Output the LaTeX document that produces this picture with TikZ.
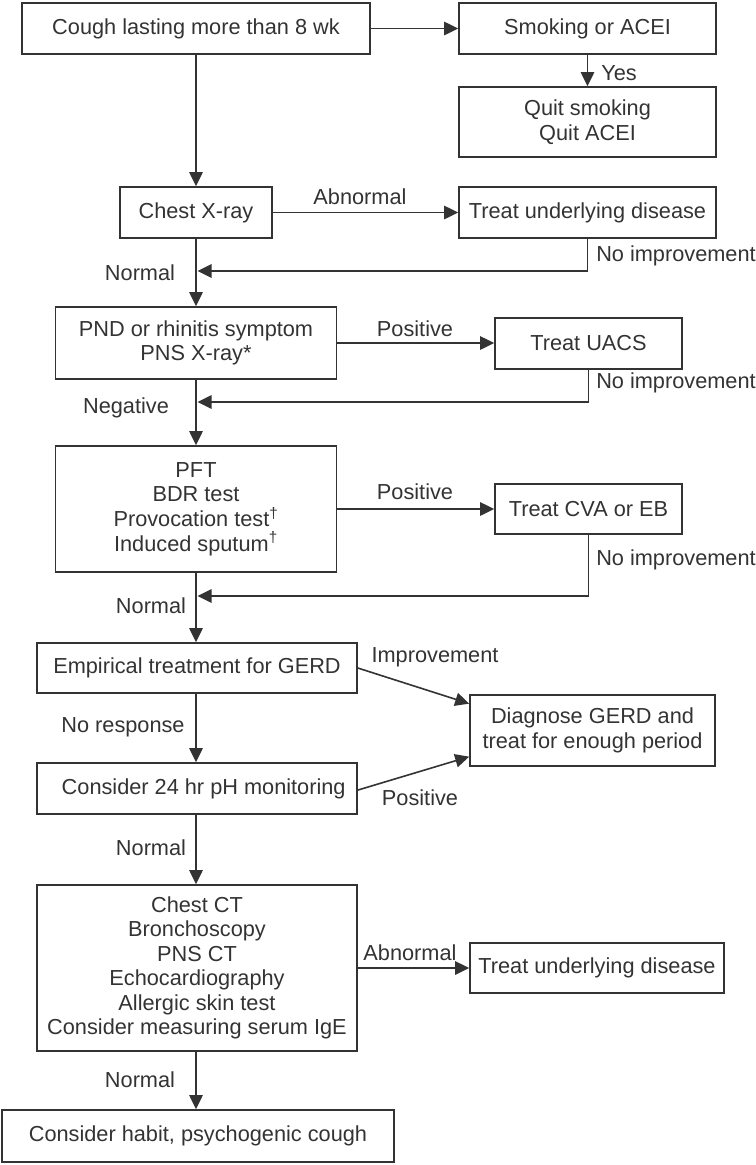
\documentclass[tikz,border=0pt]{standalone}
\usepackage{fontspec}
\setmainfont{Liberation Sans}
\usetikzlibrary{arrows.meta,calc}
\definecolor{ink}{HTML}{333333}
\begin{document}
\begin{tikzpicture}[x=0.75pt,y=-0.75pt,
  box/.style={draw=ink,line width=1.2pt,inner sep=1pt,align=center,text=ink,
    font=\fontsize{16.3pt}{18.4pt}\selectfont},
  lbl/.style={inner sep=0pt,text=ink,font=\fontsize{16.3pt}{18.4pt}\selectfont},
  arr/.style={draw=ink,line width=1.2pt,-{Triangle[length=10.5pt,width=10pt]}},
  ln/.style={draw=ink,line width=1.2pt}]
\useasboundingbox (0,0) rectangle (756,1165);
% nodes
\node[box,minimum width=261pt,minimum height=38.25pt] (cough) at (196,28.5) {Cough lasting more than 8 wk};
\node[box,minimum width=192.75pt,minimum height=38.25pt] (smoke) at (587.5,28.5) {Smoking or ACEI};
\node[box,minimum width=192.75pt,minimum height=52.5pt] (quit) at (587.5,122) {Quit smoking\\Quit ACEI};
\node[box,minimum width=114pt,minimum height=38.25pt] (cxr) at (196,212.5) {Chest X-ray};
\node[box,minimum width=192.75pt,minimum height=38.25pt] (tud1) at (587.5,212.5) {Treat underlying disease};
\node[box,minimum width=210.75pt,minimum height=54pt] (pnd) at (196,343) {PND or rhinitis symptom\\PNS X-ray*};
\node[box,minimum width=140.25pt,minimum height=38.25pt] (uacs) at (588.5,343.5) {Treat UACS};
\node[box,minimum width=210.75pt,minimum height=94.5pt] (pft) at (196,509) {PFT\\BDR test\\Provocation test\textsuperscript{†}\\Induced sputum\textsuperscript{†}};
\node[box,minimum width=140.25pt,minimum height=37.5pt] (cva) at (588.5,509) {Treat CVA or EB};
\node[box,minimum width=240pt,minimum height=37.5pt] (emp) at (197,668) {Empirical treatment for GERD};
\node[box,minimum width=183.75pt,minimum height=53.25pt] (diag) at (592.5,730.5) {Diagnose GERD and\\treat for enough period};
\node[box,minimum width=240pt,minimum height=38.25pt] (ph) at (197,788.5) {\hspace*{10pt}Consider 24 hr pH monitoring};
\node[box,minimum width=240pt,minimum height=124.5pt] (ct) at (197,968) {Chest CT\\Bronchoscopy\\PNS CT\\Echocardiography\\Allergic skin test\\Consider measuring serum IgE};
\node[box,minimum width=190.5pt,minimum height=37.5pt] (tud2) at (597,968) {Treat underlying disease};
\node[box,minimum width=294pt,minimum height=39pt] (habit) at (198,1136) {Consider habit, psychogenic cough};
% junctions
\coordinate (j1) at (197.5,271);
\coordinate (j2) at (197.5,402);
\coordinate (j3) at (197.5,596);
% connectors
\draw[arr] (cough.east) -- (smoke.west);
\draw[arr] (smoke.south) -- (quit.north);
\draw[arr] (cough.south) -- (cxr.north);
\draw[arr] (cxr.east) -- (tud1.west);
\draw[arr] (tud1.south) |- (j1);
\draw[arr] (cxr.south) -- (pnd.north);
\draw[arr] (pnd.east) -- (pnd.east -| uacs.west);
\draw[arr] (uacs.south) |- (j2);
\draw[arr] (pnd.south) -- (pft.north);
\draw[arr] (pft.east) -- (cva.west);
\draw[arr] (cva.south) |- (j3);
\draw[arr] (pft.south) -- (pft.south |- emp.north);
\draw[arr] (emp.east) -- ($(diag.north west)!0.13!(diag.south west)$);
\draw[arr] (emp.south -| pft.south) -- (pft.south |- ph.north);
\draw[arr] ($(ph.north east)!0.53!(ph.south east)$) -- ($(diag.north west)!0.86!(diag.south west)$);
\draw[arr] (ph.south -| pft.south) -- (pft.south |- ct.north);
\draw[arr] (ct.east) -- (tud2.west);
\draw[arr] (ct.south -| pft.south) -- (pft.south |- habit.north);
% labels
\node[lbl,anchor=west] (lyes) at (601,73) {Yes};
\node[lbl] (lab1) at (360,197) {Abnormal};
\node[lbl,anchor=west] (lni1) at (596,256) {No improvement};
\node[lbl] (lno1) at (140,273) {Normal};
\node[lbl] (lpo1) at (415,329) {Positive};
\node[lbl,anchor=west] (lni2) at (596,383) {No improvement};
\node[lbl] (lneg) at (126,408) {Negative};
\node[lbl] (lpo2) at (415,492) {Positive};
\node[lbl,anchor=west] (lni3) at (596,560) {No improvement};
\node[lbl] (lno2) at (151,606) {Normal};
\node[lbl] (limp) at (435,657) {Improvement};
\node[lbl] (lnr) at (123,727) {No response};
\node[lbl] (lpo3) at (420,798) {Positive};
\node[lbl] (lno3) at (151,848) {Normal};
\node[lbl] (lab2) at (410,953) {Abnormal};
\node[lbl] (lno4) at (140,1080) {Normal};
\end{tikzpicture}
\end{document}
